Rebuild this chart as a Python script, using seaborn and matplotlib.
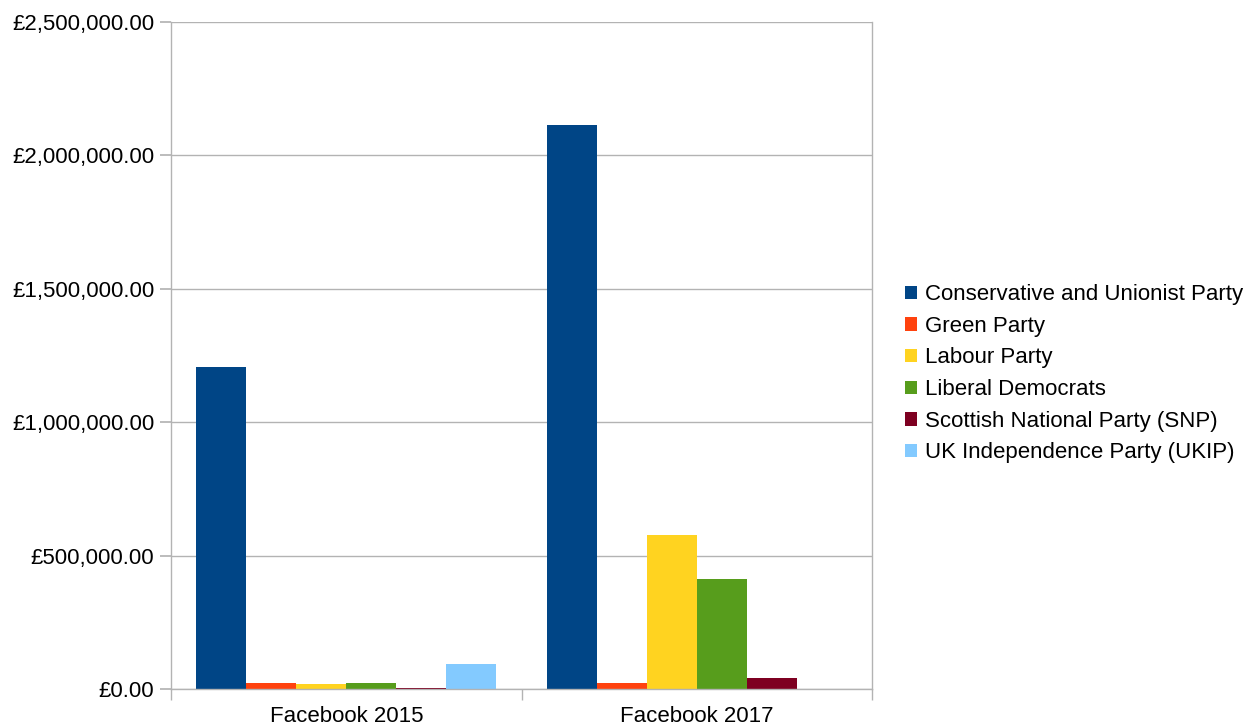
import matplotlib
matplotlib.use("Agg")
import matplotlib.pyplot as plt
from matplotlib.ticker import FuncFormatter, FixedLocator
import seaborn as sns
import pandas as pd

categories = ["Facebook 2015", "Facebook 2017"]
parties = ["Conservative and Unionist Party", "Green Party", "Labour Party",
           "Liberal Democrats", "Scottish National Party (SNP)",
           "UK Independence Party (UKIP)"]
values_2015 = [1208000, 22500, 19000, 21000, 5000, 94000]
values_2017 = [2115000, 22000, 578000, 412000, 42000, 0]
colors = ["#004586", "#ff420e", "#ffd320", "#579d1c", "#7e0021", "#83caff"]

rows = []
for cat, vals in zip(categories, [values_2015, values_2017]):
    for p, v in zip(parties, vals):
        rows.append({"Category": cat, "Party": p, "Value": v})
df = pd.DataFrame(rows)

sns.set_theme(style="white")
plt.rcParams['font.family'] = ['Liberation Sans', 'DejaVu Sans']
plt.rcParams['text.color'] = '#000000'

FS = 16

fig = plt.figure(figsize=(12.59, 7.28), dpi=100)
ax = fig.add_axes([171/1259, 1-689/728, (872-171)/1259, (689-22)/728])

sns.barplot(data=df, x="Category", y="Value", hue="Party", hue_order=parties,
            order=categories, palette=colors, width=0.857, saturation=1,
            edgecolor="none", linewidth=0, ax=ax, errorbar=None)

ax.set_ylim(0, 2500000)
ax.set_xlim(-0.5, 1.5)
ax.yaxis.set_major_locator(FixedLocator([0, 500000, 1000000, 1500000, 2000000, 2500000]))
ax.yaxis.set_major_formatter(FuncFormatter(lambda v, p: "£{:,.2f}".format(v)))
ax.grid(axis="y", color="#b3b3b3", linewidth=1)
ax.set_axisbelow(True)
ax.set_xlabel("")
ax.set_ylabel("")

for s in ["left", "bottom", "right"]:
    ax.spines[s].set_visible(True)
    ax.spines[s].set_color("#b3b3b3")
    ax.spines[s].set_linewidth(1)
ax.spines["top"].set_visible(False)

ax.tick_params(axis="y", which="major", left=True, length=8, color="#b3b3b3",
               labelsize=FS, labelcolor="#000000", pad=4)
ax.tick_params(axis="x", which="major", bottom=False, length=0, labelsize=FS,
               labelcolor="#000000", pad=12.5)
ax.xaxis.set_minor_locator(FixedLocator([-0.5, 0.5, 1.5]))
ax.tick_params(axis="x", which="minor", bottom=True, length=8, color="#b3b3b3")

handles, labels = ax.get_legend_handles_labels()
leg = ax.legend(handles, labels, loc="center left", bbox_to_anchor=(896/1259, 0.4865),
                bbox_transform=fig.transFigure, frameon=False, fontsize=FS,
                handlelength=0.54, handleheight=0.54, handletextpad=0.36,
                labelspacing=0.48, borderaxespad=0)
for t in leg.get_texts():
    t.set_color("#000000")

fig.savefig("out.png", dpi=100)
